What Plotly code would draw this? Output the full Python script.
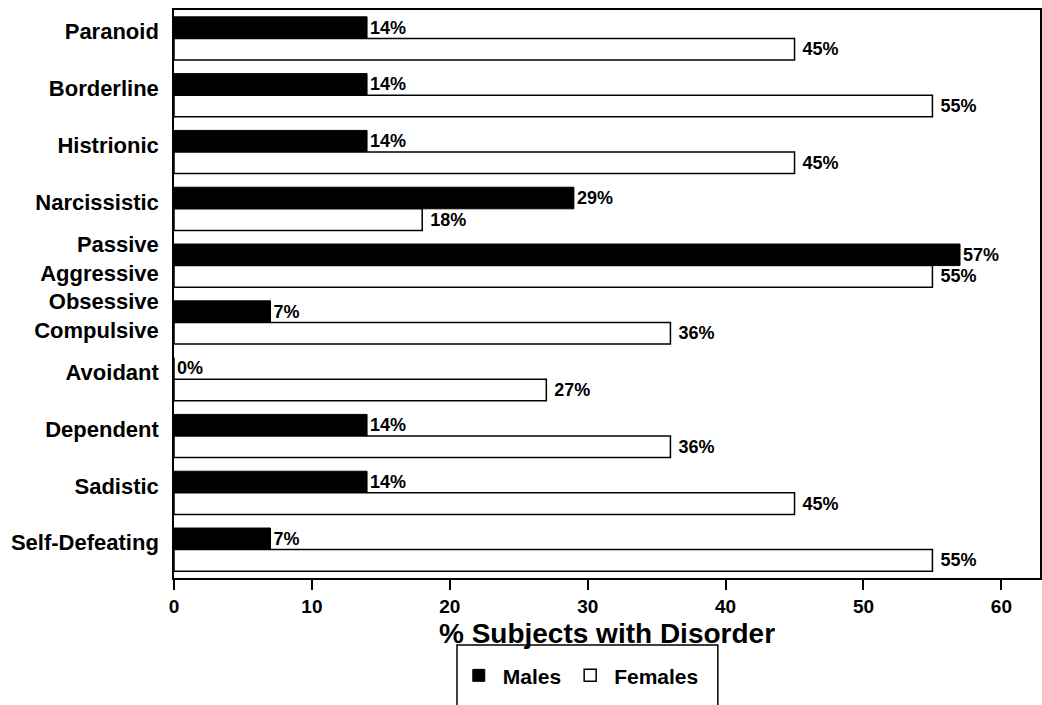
import plotly.graph_objects as go

categories = ["Paranoid", "Borderline", "Histrionic", "Narcissistic",
              "Passive<br>Aggressive", "Obsessive<br>Compulsive", "Avoidant",
              "Dependent", "Sadistic", "Self-Defeating"]
males = [14, 14, 14, 29, 57, 7, 0, 14, 14, 7]
females = [45, 55, 45, 18, 55, 36, 27, 36, 45, 55]
x_ticks = [0, 10, 20, 30, 40, 50, 60]

positions = list(range(len(categories)))
label_pos = [p - 0.12 for p in positions]

FONT = "Liberation Sans, Arial, sans-serif"

fig = go.Figure()
fig.add_trace(go.Bar(
    name="Males", orientation="h", y=positions, x=males,
    marker=dict(color="black", line=dict(color="black", width=1)),
    texttemplate="%{x}%", textposition="outside", cliponaxis=False,
    textfont=dict(family=FONT, size=18, color="black", weight="bold"),
))
fig.add_trace(go.Bar(
    name="Females", orientation="h", y=positions, x=females,
    marker=dict(color="white", line=dict(color="black", width=1.5)),
    texttemplate="\u00a0%{x}%", textposition="outside", cliponaxis=False,
    textfont=dict(family=FONT, size=18, color="black", weight="bold"),
))

fig.update_layout(
    width=1042, height=705,
    margin=dict(l=174, r=2, t=10, b=127, autoexpand=False),
    paper_bgcolor="white", plot_bgcolor="white",
    font=dict(family=FONT, color="black", weight="bold"),
    barmode="group", bargap=0.24, bargroupgap=0,
    showlegend=True,
    legend=dict(orientation="h", x=0.468, y=-0.172, xanchor="center", yanchor="middle",
                font=dict(family=FONT, size=21, weight="bold"),
                bgcolor="rgba(0,0,0,0)", borderwidth=0, traceorder="normal",
                itemwidth=38),
    shapes=[dict(type="rect", xref="paper", yref="paper",
                 x0=0.3268, x1=0.628, y0=-0.118, y1=-0.26,
                 line=dict(color="black", width=1.5), fillcolor="rgba(0,0,0,0)")],
)
fig.update_xaxes(
    range=[0, 62.8], tickvals=x_ticks, showgrid=False, zeroline=False,
    showline=True, linecolor="black", linewidth=1.5, mirror=True,
    ticks="outside", ticklen=10, tickwidth=1.5, tickcolor="black",
    tickfont=dict(family=FONT, size=19, weight="bold"),
    title=dict(text="% Subjects with Disorder", standoff=8,
               font=dict(family=FONT, size=28, weight="bold")),
)
fig.update_yaxes(
    range=[9.5, -0.5], tickvals=label_pos, ticktext=categories,
    showgrid=False, zeroline=False,
    showline=True, linecolor="black", linewidth=1.5, mirror=True,
    ticks="", ticklabelstandoff=9,
    tickfont=dict(family=FONT, size=22, weight="bold"),
)

fig.write_html("out.html", config={"displayModeBar": False},
               post_script="document.body.style.margin='0';document.body.style.overflow='hidden';")
